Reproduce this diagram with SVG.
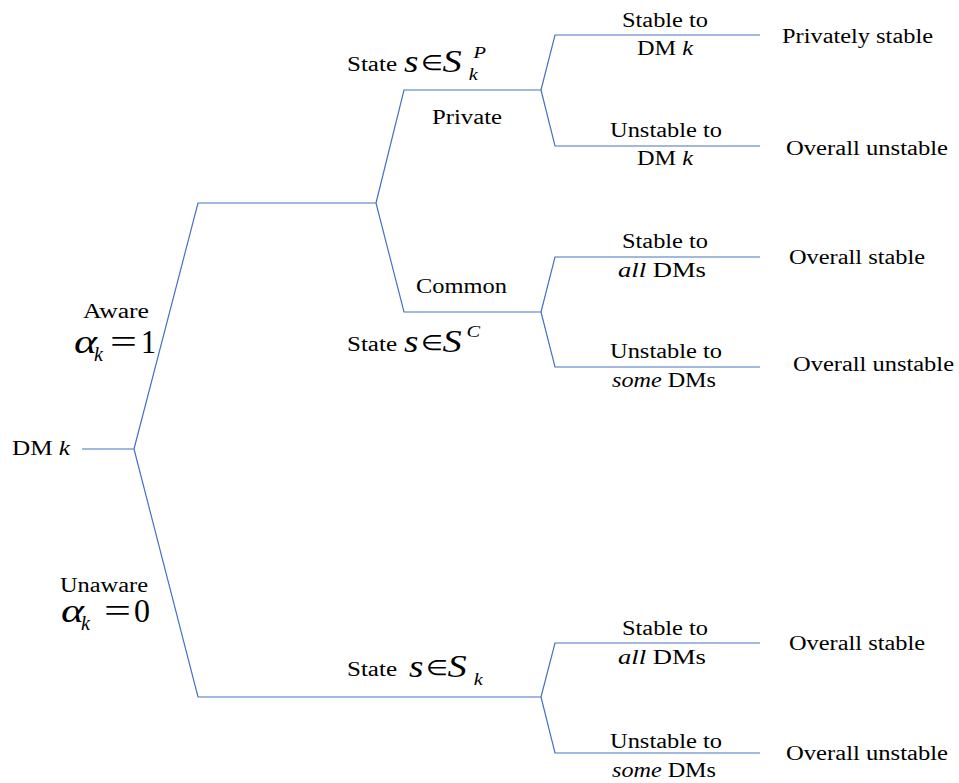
<svg xmlns="http://www.w3.org/2000/svg" width="959" height="783" viewBox="0 0 959 783">
  <style>
    .ln { fill: none; stroke: #4472C4; stroke-width: 1.2; }
    text { font-family: "Liberation Serif", "Times New Roman", serif; fill: #000; }
    .lb { font-size: 20px; }
    .mid { text-anchor: middle; }
    .it { font-style: italic; }
    .mb { font-size: 33px; }
    .sc { font-size: 20px; font-style: italic; }
    .mx { font-size: 31px; }
    .mx .v { font-style: italic; font-size: 31px; }
    .mx .rel { font-size: 21px; }
    .mx .big { font-style: italic; font-size: 32px; }
    .mx .ix { font-style: italic; font-size: 17px; }
  </style>

  <!-- tree branches -->
  <g id="connectors">
    <path class="ln" d="M82,449 H134"/>
    <path class="ln" d="M134,449 L198,203 H376"/>
    <path class="ln" d="M134,449 L198,697 H541"/>
    <path class="ln" d="M376,203 L404,90 H541"/>
    <path class="ln" d="M376,203 L404,312 H541"/>
    <path class="ln" d="M541,90 L555,35 H760"/>
    <path class="ln" d="M541,90 L555,146 H760"/>
    <path class="ln" d="M541,312 L555,257 H760"/>
    <path class="ln" d="M541,312 L555,367 H760"/>
    <path class="ln" d="M541,697 L555,643 H760"/>
    <path class="ln" d="M541,697 L555,753 H760"/>
  </g>

  <!-- root -->
  <g id="root">
    <text class="lb" x="12" y="455" textLength="58" lengthAdjust="spacingAndGlyphs">DM <tspan class="it">k</tspan></text>
  </g>

  <!-- aware branch -->
  <g id="aware">
    <text class="lb" x="83" y="318" textLength="66" lengthAdjust="spacingAndGlyphs">Aware</text>
    <text class="mb it" x="74" y="353" textLength="23" lengthAdjust="spacingAndGlyphs">α</text>
    <text class="sc" x="94" y="361">k</text>
    <text class="mb" x="110" y="353" textLength="27" lengthAdjust="spacingAndGlyphs">=</text>
    <text class="mb" x="141" y="353" textLength="15" lengthAdjust="spacingAndGlyphs">1</text>
  </g>

  <!-- unaware branch -->
  <g id="unaware">
    <text class="lb" x="60" y="592" textLength="88" lengthAdjust="spacingAndGlyphs">Unaware</text>
    <text class="mb it" x="61" y="622" textLength="23" lengthAdjust="spacingAndGlyphs">α</text>
    <text class="sc" x="81" y="630">k</text>
    <text class="mb" x="104" y="622" textLength="27" lengthAdjust="spacingAndGlyphs">=</text>
    <text class="mb" x="134" y="622" textLength="16" lengthAdjust="spacingAndGlyphs">0</text>
  </g>

  <!-- private states -->
  <g id="private">
    <text class="lb" x="347" y="71" textLength="50" lengthAdjust="spacingAndGlyphs">State</text>
    <g transform="translate(404,72) scale(1.2,1)">
      <text class="mx"><tspan class="v" x="0" y="0">s</tspan><tspan class="rel" x="14" y="-2">∈</tspan><tspan class="big" x="32" y="0">S</tspan><tspan class="ix" x="58" y="-14">P</tspan><tspan class="ix" x="54" y="8">k</tspan></text>
    </g>
    <text class="lb" x="432" y="124" textLength="70" lengthAdjust="spacingAndGlyphs">Private</text>
  </g>

  <!-- common states -->
  <g id="common">
    <text class="lb" x="416" y="293" textLength="91" lengthAdjust="spacingAndGlyphs">Common</text>
    <text class="lb" x="347" y="351" textLength="50" lengthAdjust="spacingAndGlyphs">State</text>
    <g transform="translate(404,352) scale(1.2,1)">
      <text class="mx"><tspan class="v" x="0" y="0">s</tspan><tspan class="rel" x="14" y="-2">∈</tspan><tspan class="big" x="32" y="0">S</tspan><tspan class="ix" x="52" y="-15">C</tspan></text>
    </g>
  </g>

  <!-- states when unaware -->
  <g id="unaware-state">
    <text class="lb" x="347" y="676" textLength="50" lengthAdjust="spacingAndGlyphs">State</text>
    <g transform="translate(409,677) scale(1.2,1)">
      <text class="mx"><tspan class="v" x="0" y="0">s</tspan><tspan class="rel" x="14" y="-2">∈</tspan><tspan class="big" x="32" y="0">S</tspan><tspan class="ix" x="54" y="8">k</tspan></text>
    </g>
  </g>

  <!-- outcomes, private -->
  <g id="private-stable">
    <text class="lb mid" x="665" y="27" textLength="86" lengthAdjust="spacingAndGlyphs">Stable to</text>
    <text class="lb mid" x="665" y="55" textLength="56" lengthAdjust="spacingAndGlyphs">DM <tspan class="it">k</tspan></text>
    <text class="lb" x="782" y="43" textLength="151" lengthAdjust="spacingAndGlyphs">Privately stable</text>
  </g>
  <g id="private-unstable">
    <text class="lb mid" x="666" y="137" textLength="112" lengthAdjust="spacingAndGlyphs">Unstable to</text>
    <text class="lb mid" x="665" y="165" textLength="56" lengthAdjust="spacingAndGlyphs">DM <tspan class="it">k</tspan></text>
    <text class="lb" x="786" y="155" textLength="162" lengthAdjust="spacingAndGlyphs">Overall unstable</text>
  </g>

  <!-- outcomes, common -->
  <g id="common-stable">
    <text class="lb mid" x="665" y="248" textLength="86" lengthAdjust="spacingAndGlyphs">Stable to</text>
    <text class="lb mid" x="662" y="277" textLength="88" lengthAdjust="spacingAndGlyphs"><tspan class="it">all</tspan> DMs</text>
    <text class="lb" x="789" y="264" textLength="136" lengthAdjust="spacingAndGlyphs">Overall stable</text>
  </g>
  <g id="common-unstable">
    <text class="lb mid" x="666" y="358" textLength="112" lengthAdjust="spacingAndGlyphs">Unstable to</text>
    <text class="lb mid" x="664" y="387" textLength="104" lengthAdjust="spacingAndGlyphs"><tspan class="it">some</tspan> DMs</text>
    <text class="lb" x="793" y="371" textLength="161" lengthAdjust="spacingAndGlyphs">Overall unstable</text>
  </g>

  <!-- outcomes, unaware -->
  <g id="unaware-stable">
    <text class="lb mid" x="665" y="635" textLength="86" lengthAdjust="spacingAndGlyphs">Stable to</text>
    <text class="lb mid" x="662" y="664" textLength="88" lengthAdjust="spacingAndGlyphs"><tspan class="it">all</tspan> DMs</text>
    <text class="lb" x="789" y="650" textLength="136" lengthAdjust="spacingAndGlyphs">Overall stable</text>
  </g>
  <g id="unaware-unstable">
    <text class="lb mid" x="666" y="748" textLength="112" lengthAdjust="spacingAndGlyphs">Unstable to</text>
    <text class="lb mid" x="664" y="777" textLength="104" lengthAdjust="spacingAndGlyphs"><tspan class="it">some</tspan> DMs</text>
    <text class="lb" x="786" y="760" textLength="162" lengthAdjust="spacingAndGlyphs">Overall unstable</text>
  </g>
</svg>
